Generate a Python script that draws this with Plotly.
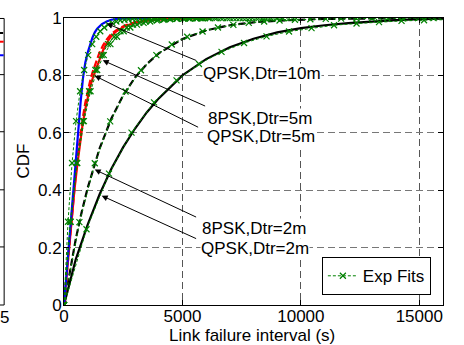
import plotly.graph_objects as go

# ---------------- data ----------------
# Empirical CDFs of link failure interval (s)
qpsk10_x = [0, 100, 200, 300, 400, 500, 600, 700, 800, 900, 1000, 1100, 1200, 1300, 1400,
            1600, 1800, 2000, 2300, 2700, 3600]
qpsk10_y = [0, 0.10, 0.21, 0.32, 0.43, 0.53, 0.615, 0.705, 0.79, 0.845, 0.88, 0.91, 0.932, 0.95,
            0.963, 0.979, 0.988, 0.994, 0.998, 0.999, 1.0]

qpsk5_x = [0, 110, 220, 330, 440, 550, 660, 770, 880, 990, 1100, 1210, 1320, 1430, 1540, 1650,
           1815, 1980, 2200, 2530, 2860, 3300, 3850, 4400, 5500, 6200]
qpsk5_y = [0, 0.10, 0.21, 0.31, 0.40, 0.48, 0.555, 0.62, 0.675, 0.72, 0.76, 0.79, 0.815, 0.84,
           0.865, 0.888, 0.915, 0.935, 0.953, 0.97, 0.98, 0.988, 0.994, 0.997, 0.999, 1.0]

psk8_5_x = [0, 100, 200, 300, 400, 500, 600, 700, 800, 900, 1000, 1100, 1200, 1300, 1400, 1500,
            1650, 1800, 2000, 2300, 2600, 3000, 3500, 4000, 5000, 6200]
psk8_5_y = [0, 0.095, 0.20, 0.295, 0.38, 0.46, 0.535, 0.60, 0.655, 0.705, 0.745, 0.78, 0.81, 0.836,
            0.86, 0.88, 0.905, 0.925, 0.945, 0.963, 0.975, 0.985, 0.992, 0.996, 0.999, 1.0]

psk8_2_x = [0, 250, 500, 750, 1000, 1500, 2000, 2500, 3000, 3500, 4000, 5000, 6000, 7000, 8000,
            9000, 10000, 11000, 12000, 14000, 16000]
psk8_2_y = [0, 0.123, 0.231, 0.325, 0.408, 0.545, 0.650, 0.731, 0.793, 0.840, 0.877, 0.927,
            0.957, 0.975, 0.985, 0.991, 0.995, 0.997, 0.998, 0.999, 1.0]

qpsk2_x = [0, 500, 1000, 1500, 2000, 2500, 3000, 3500, 4000, 5000, 6000, 7000, 8000, 9000,
           10000, 11000, 12000, 13000, 14000, 15000, 16000]
qpsk2_y = [0, 0.16, 0.28, 0.385, 0.475, 0.55, 0.615, 0.672, 0.72, 0.80, 0.857, 0.898, 0.928,
           0.95, 0.965, 0.975, 0.982, 0.988, 0.993, 0.996, 0.998]

# Exponential fits (marker samples)
fit10_x = [0, 170, 340, 510, 680, 850, 1020, 1190, 1360, 1530, 1700, 1870, 2040, 2210, 2380,
           2550, 2720, 2890, 3060, 3230, 3400, 3570, 3740, 3910, 4080, 4250, 4420, 4590, 4760,
           4930, 5100, 5270, 5440, 5610, 5780, 5950]
fit10_y = [0, 0.290, 0.495, 0.641, 0.745, 0.819, 0.871, 0.909, 0.935, 0.954, 0.967, 0.977, 0.983,
           0.988, 0.992, 0.994, 0.996, 0.997, 0.998, 0.9985, 0.999, 0.9993, 0.9995, 0.9996,
           0.9997, 0.9998, 0.9999, 0.9999, 0.9999, 1.0, 1.0, 1.0, 1.0, 1.0, 1.0, 1.0]

fitq5_x = [0, 265, 530, 795, 1060, 1325, 1590, 1855, 2120, 2385, 2650, 2915, 3180, 3445, 3710,
           3975, 4240, 4505, 4770, 5035, 5300, 5565, 5830, 6095, 6360, 6625, 6890, 7155, 7420,
           7685, 7950, 8215, 8480, 8745, 9010, 9275]
fitq5_y = [0, 0.290, 0.495, 0.641, 0.745, 0.819, 0.871, 0.909, 0.935, 0.954, 0.967, 0.977, 0.983,
           0.988, 0.992, 0.994, 0.996, 0.997, 0.998, 0.9985, 0.999, 0.9993, 0.9995, 0.9996,
           0.9997, 0.9998, 0.9999, 0.9999, 0.9999, 1.0, 1.0, 1.0, 1.0, 1.0, 1.0, 1.0]

fit85_x = [0, 280, 560, 840, 1120, 1400, 1680, 1960, 2240, 2520, 2800, 3080, 3360, 3640, 3920,
           4200, 4480, 4760, 5040, 5320, 5600, 5880, 6160, 6440, 6720, 7000, 7280, 7560, 7840,
           8120, 8400, 8680, 8960, 9240, 9520, 9800]
fit85_y = [0, 0.290, 0.495, 0.641, 0.745, 0.819, 0.871, 0.909, 0.935, 0.954, 0.967, 0.977, 0.983,
           0.988, 0.992, 0.994, 0.996, 0.997, 0.998, 0.9985, 0.999, 0.9993, 0.9995, 0.9996,
           0.9997, 0.9998, 0.9999, 0.9999, 0.9999, 1.0, 1.0, 1.0, 1.0, 1.0, 1.0, 1.0]

fit82_x = [0, 650, 1300, 1950, 2600, 3250, 3900, 4550, 5200, 5850, 6500, 7150, 7800, 8450, 9100,
           9750, 10400, 11050, 11700, 12350, 13000, 13650, 14300, 14950, 15600, 16250]
fit82_y = [0, 0.289, 0.494, 0.640, 0.744, 0.818, 0.871, 0.908, 0.935, 0.953, 0.967, 0.976, 0.983,
           0.988, 0.9915, 0.994, 0.9957, 0.997, 0.998, 0.9985, 0.999, 0.9992, 0.9994, 0.9996,
           0.9997, 0.9998]

fitq2_x = [0, 950, 1900, 2850, 3800, 4750, 5700, 6650, 7600, 8550, 9500, 10450, 11400, 12350,
           13300, 14250, 15200, 16150]
fitq2_y = [0, 0.264, 0.458, 0.601, 0.706, 0.783, 0.840, 0.882, 0.913, 0.936, 0.953, 0.965, 0.975,
           0.981, 0.986, 0.990, 0.9925, 0.9945]

x_ticks = [0, 5000, 10000, 15000]
x_tick_text = ["0", "5000", "10000", "15000"]
y_ticks = [0, 0.2, 0.4, 0.6, 0.8, 1]
y_tick_text = ["0", "0.2", "0.4", "0.6", "0.8", "1"]

labels = ["QPSK,Dtr=10m", "8PSK,Dtr=5m", "QPSK,Dtr=5m", "8PSK,Dtr=2m", "QPSK,Dtr=2m"]
label_pos = [(5839, 0.806), (6033, 0.651), (6008, 0.586), (5797, 0.265), (5755, 0.198)]
arrow_head = [(1801, 0.981), (1633, 0.853), (1295, 0.799), (1295, 0.472), (1590, 0.381)]
arrow_tail = [(5645, 0.850), (6021, 0.691), (5725, 0.617), (5641, 0.304), (5641, 0.229)]

# ---------------- figure ----------------
FONT = "Liberation Sans, Arial, sans-serif"
GREEN = "#008000"

fig = go.Figure()

data_series = [
    (qpsk2_x, qpsk2_y, "black", "solid"),
    (psk8_2_x, psk8_2_y, "black", "7px,3px"),
    (psk8_5_x, psk8_5_y, "#FF0000", "7px,3px"),
    (qpsk5_x, qpsk5_y, "#FF0000", "solid"),
    (qpsk10_x, qpsk10_y, "#0000FF", "solid"),
]
for xs, ys, col, dash in data_series:
    fig.add_trace(go.Scatter(x=xs, y=ys, mode="lines", showlegend=False,
                             line=dict(color=col, width=2.2, dash=dash)))

fits = [(fit10_x, fit10_y), (fitq5_x, fitq5_y), (fit85_x, fit85_y),
        (fit82_x, fit82_y), (fitq2_x, fitq2_y)]
for i, (xs, ys) in enumerate(fits):
    fig.add_trace(go.Scatter(
        x=xs, y=ys, mode="lines+markers", name="Exp Fits", showlegend=(i == 0),
        line=dict(color=GREEN, width=1, dash="3px,2px"),
        marker=dict(symbol="x-thin", size=6, line=dict(color=GREEN, width=1.2), color=GREEN)))

annotations = []
for (hx, hy), (tx, ty) in zip(arrow_head, arrow_tail):
    annotations.append(dict(x=hx, y=hy, ax=tx, ay=ty, xref="x", yref="y", axref="x", ayref="y",
                            text="", showarrow=True, arrowhead=2, arrowsize=1.2,
                            arrowwidth=1, arrowcolor="black"))
for txt, (lx, ly) in zip(labels, label_pos):
    annotations.append(dict(x=lx, y=ly, xref="x", yref="y", text=txt, showarrow=False,
                            xanchor="left", yanchor="middle", bgcolor="white", borderpad=0,
                            font=dict(family=FONT, size=17, color="black")))
# axis titles
annotations.append(dict(x=0.497, y=-0.105, xref="paper", yref="paper", text="Link failure interval (s)",
                        showarrow=False, xanchor="center", yanchor="middle",
                        font=dict(family=FONT, size=17, color="black")))
annotations.append(dict(x=-0.108, y=0.5, xref="paper", yref="paper", text="CDF", textangle=-90,
                        showarrow=False, xanchor="center", yanchor="middle",
                        font=dict(family=FONT, size=17, color="black")))
# neighbouring panel's tick label (partially visible at left edge)
annotations.append(dict(x=-0.158, y=-0.045, xref="paper", yref="paper", text="5",
                        showarrow=False, xanchor="center", yanchor="middle",
                        font=dict(family=FONT, size=17, color="black")))

# neighbouring panel fragments at left edge (paper coordinates)
px = lambda p: (p - 64.3) / 378.7
py = lambda p: (305 - p) / 296.5
shapes = [
    dict(type="line", xref="paper", yref="paper", x0=px(4.5), x1=px(4.5), y0=py(9), y1=py(305),
         line=dict(color="black", width=1)),
    dict(type="line", xref="paper", yref="paper", x0=px(0), x1=px(4.5), y0=py(9), y1=py(9),
         line=dict(color="black", width=1)),
    dict(type="line", xref="paper", yref="paper", x0=px(0), x1=px(4.5), y0=py(305), y1=py(305),
         line=dict(color="black", width=1)),
    dict(type="line", xref="paper", yref="paper", x0=px(0), x1=px(3.5), y0=py(24), y1=py(24),
         line=dict(color="black", width=2)),
    dict(type="line", xref="paper", yref="paper", x0=px(0), x1=px(4), y0=py(33), y1=py(33),
         line=dict(color="#FF0000", width=2)),
    dict(type="line", xref="paper", yref="paper", x0=px(0), x1=px(4), y0=py(47), y1=py(47),
         line=dict(color="#0000FF", width=2)),
]
for yy in [67, 126, 186, 245]:
    shapes.append(dict(type="line", xref="paper", yref="paper", x0=px(0), x1=px(4.5),
                       y0=py(yy), y1=py(yy), line=dict(color="black", width=1)))

fig.update_layout(
    width=464, height=345,
    margin=dict(l=64, r=21, t=9, b=40, pad=0),
    paper_bgcolor="white", plot_bgcolor="white",
    font=dict(family=FONT, size=17, color="black"),
    showlegend=True,
    legend=dict(x=0.968, y=0.034, xanchor="right", yanchor="bottom",
                bgcolor="white", bordercolor="black", borderwidth=1,
                font=dict(family=FONT, size=17, color="black"),
                itemwidth=30, tracegroupgap=0),
    annotations=annotations,
    shapes=shapes,
)
fig.update_xaxes(range=[0, 16000], tickvals=x_ticks, ticktext=x_tick_text,
                 ticks="inside", ticklen=5, tickcolor="black", showline=True, linecolor="black",
                 linewidth=1, mirror="ticks", showgrid=True, gridcolor="#555555", gridwidth=1,
                 griddash="7px,4px", zeroline=False, ticklabelstandoff=-4,
                 tickfont=dict(family=FONT, size=17, color="black"))
fig.update_yaxes(range=[0, 1.0002], tickvals=y_ticks, ticktext=y_tick_text,
                 ticks="inside", ticklen=5, tickcolor="black", showline=True, linecolor="black",
                 linewidth=1, mirror="ticks", showgrid=True, gridcolor="#777777", gridwidth=1,
                 griddash="7px,4px", zeroline=False, ticklabelstandoff=-2,
                 tickfont=dict(family=FONT, size=17, color="black"))

fig.write_html("out.html")
